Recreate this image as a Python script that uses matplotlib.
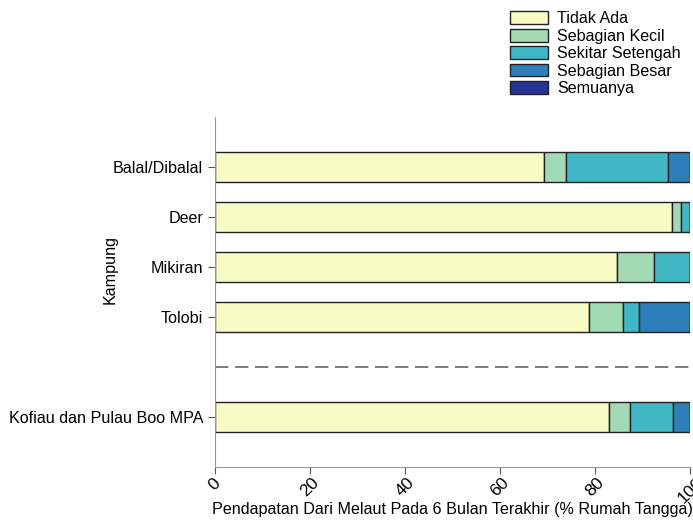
import matplotlib.pyplot as plt
import numpy as np

plt.rcParams['font.family'] = ['Liberation Sans', 'DejaVu Sans']

kampung = ['Kofiau dan Pulau Boo MPA', '', 'Tolobi', 'Mikiran', 'Deer', 'Balal/Dibalal']
kategori = ['Tidak Ada', 'Sebagian Kecil', 'Sekitar Setengah', 'Sebagian Besar', 'Semuanya']
warna = ['#f7fbc4', '#a1dab4', '#41b6c4', '#2c7fb8', '#253494']

# persen rumah tangga per kategori (baris kosong = garis pemisah)
tidak_ada = [82.9, 0, 78.7, 84.7, 96.2, 69.3]
kecil = [4.4, 0, 7.2, 7.7, 1.9, 4.6]
setengah = [9.1, 0, 3.4, 7.6, 1.9, 21.4]
besar = [3.6, 0, 10.7, 0, 0, 4.7]
semua = [0, 0, 0, 0, 0, 0]

data = [tidak_ada, kecil, setengah, besar, semua]

fig = plt.figure(figsize=(6.93, 5.21), dpi=100)
ax = fig.add_axes([0.310, 0.1036, 0.686, 0.672])

y = np.arange(len(kampung))
left = np.zeros(len(kampung))
mask = np.array([k != '' for k in kampung])
for vals, lab, c in zip(data, kategori, warna):
    vals = np.array(vals)
    ax.barh(y[mask], vals[mask], left=left[mask], height=0.6, color=c,
            edgecolor='#222222', linewidth=1.0, label=lab)
    left += vals

ax.axhline(1, color='#666666', linestyle=(0, (8, 4)), linewidth=1.2)

ax.set_xlim(0, 100)
ax.set_ylim(-1, 6)
ax.set_yticks([0, 2, 3, 4, 5])
ax.set_yticklabels([kampung[i] for i in [0, 2, 3, 4, 5]], fontsize=11.6)
ax.set_xticks([0, 20, 40, 60, 80, 100])
ax.set_xticklabels(['0', '20', '40', '60', '80', '100'], rotation=45, fontsize=12.5)
ax.tick_params(axis='both', color='#555555', length=5)
ax.tick_params(axis='x', pad=1)

for s in ['top', 'right']:
    ax.spines[s].set_visible(False)
for s in ['left', 'bottom']:
    ax.spines[s].set_color('#999999')

ax.set_xlabel('Pendapatan Dari Melaut Pada 6 Bulan Terakhir (% Rumah Tangga)', fontsize=11.6)
ax.xaxis.set_label_coords(0.5, -0.100)
ax.set_ylabel('Kampung', fontsize=11.6)
ax.yaxis.set_label_coords(-0.205, 0.563)

fig.legend(loc='upper right', bbox_to_anchor=(0.999, 1.0), frameon=False, fontsize=11.6,
           handlelength=2.35, handleheight=0.85, labelspacing=0.15, handletextpad=0.6,
           borderaxespad=0.3)

fig.savefig('out.png', dpi=100)
